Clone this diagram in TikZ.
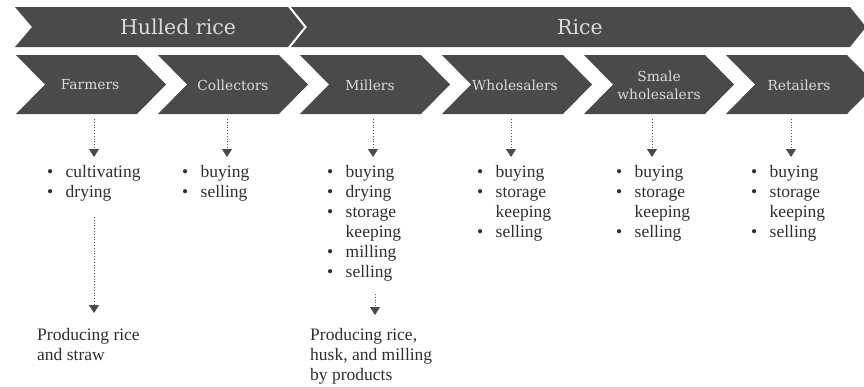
\documentclass[tikz,border=0pt]{standalone}
\usepackage{fontspec}
\setmainfont{Liberation Serif}
\usetikzlibrary{arrows.meta}
\newfontfamily\labfont{DejaVu Serif}
\definecolor{chevgray}{HTML}{4A4A4A}
\definecolor{labgray}{HTML}{DADADA}
\definecolor{txtgray}{HTML}{2E2E2E}
\definecolor{arrgray}{HTML}{555555}
\newcommand\bul{\textbullet}
\tikzset{
  chev/.style={fill=chevgray},
  toplab/.style={text=labgray,font=\labfont\fontsize{20.5}{24}\selectfont,inner sep=0pt},
  chevlab/.style={text=labgray,font=\labfont\fontsize{13.8}{18}\selectfont,align=center,inner sep=0pt},
  listnode/.style={text=txtgray,font=\fontsize{17.5}{20}\selectfont,anchor=north west,inner sep=0pt},
  prodnode/.style={text=txtgray,font=\fontsize{17.5}{20}\selectfont,anchor=north west,inner sep=0pt,align=left},
  flow/.style={draw=arrgray,dotted,line width=0.8pt,-{Triangle[width=10pt,length=8pt,fill=chevgray,color=chevgray]}}
}
\newcommand\blist[1]{\begin{tabular}{@{}l@{\hspace{12.4pt}}l@{}}#1\end{tabular}}
\begin{document}
\begin{tikzpicture}[x=1pt,y=-1pt]
\useasboundingbox (0,0) rectangle (864,386);
% top row
\fill[chev] (15,7) -- (288,7) -- (304,27) -- (288,47) -- (15,47) -- (32,27) -- cycle;
\fill[chev] (291,7) -- (850,7) -- (866,27) -- (850,47) -- (291,47) -- (307,27) -- cycle;
\node[toplab] (hulled) at (178,27) {Hulled rice};
\node[toplab] (rice) at (580,27) {Rice};
% second row
\foreach \k in {0,...,5}{
  \pgfmathsetmacro\xa{16+142*\k}
  \fill[chev] (\xa,55) -- (\xa+121,55) -- (\xa+150,84.5) -- (\xa+121,114) -- (\xa,114) -- (\xa+29,84.5) -- cycle;
}
\node[chevlab] (farmers) at (90,85) {Farmers};
\node[chevlab] (collectors) at (233,85) {Collectors};
\node[chevlab] (millers) at (370,85) {Millers};
\node[chevlab] (wholesalers) at (515,85) {Wholesalers};
\node[chevlab] (smale) at (659,85) {Smale\\wholesalers};
\node[chevlab] (retailers) at (799,85) {Retailers};
% arrow coordinates
\coordinate (fa0) at (94,119);  \coordinate (fa1) at (94,157);
\coordinate (co0) at (227,119); \coordinate (co1) at (227,157);
\coordinate (mi0) at (373,119); \coordinate (mi1) at (373,157);
\coordinate (wh0) at (511,119); \coordinate (wh1) at (511,157);
\coordinate (sm0) at (652,119); \coordinate (sm1) at (652,157);
\coordinate (re0) at (791,119); \coordinate (re1) at (791,157);
\coordinate (fb0) at (94,217);  \coordinate (fb1) at (94,313);
\coordinate (mb0) at (375,294); \coordinate (mb1) at (375,315);
\foreach \a in {fa,co,mi,wh,sm,re,fb,mb}{\draw[flow] (\a0) -- (\a1);}
% lists
\node[listnode] (lfarm) at (47,163) {\blist{\bul & cultivating\\ \bul & drying}};
\node[listnode] (lcoll) at (182,163) {\blist{\bul & buying\\ \bul & selling}};
\node[listnode] (lmill) at (327,163) {\blist{\bul & buying\\ \bul & drying\\ \bul & storage\\ & keeping\\ \bul & milling\\ \bul & selling}};
\node[listnode] (lwhol) at (477,163) {\blist{\bul & buying\\ \bul & storage\\ & keeping\\ \bul & selling}};
\node[listnode] (lsmal) at (616,163) {\blist{\bul & buying\\ \bul & storage\\ & keeping\\ \bul & selling}};
\node[listnode] (lreta) at (751,163) {\blist{\bul & buying\\ \bul & storage\\ & keeping\\ \bul & selling}};
% products
\node[prodnode] (pfarm) at (37,328) {Producing rice\\and straw};
\node[prodnode] (pmill) at (310,328) {Producing rice,\\husk, and milling\\by products};
\end{tikzpicture}
\end{document}
